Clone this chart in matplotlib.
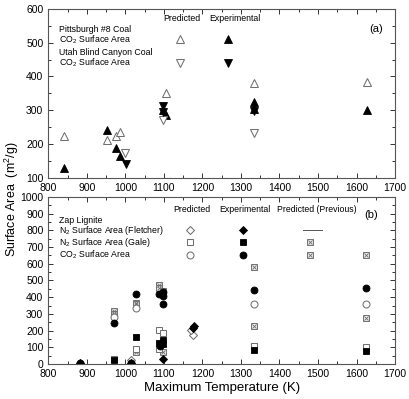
import matplotlib
matplotlib.use("Agg")
import matplotlib.pyplot as plt
from matplotlib.ticker import MultipleLocator

plt.rcParams['font.family'] = ['Liberation Sans', 'DejaVu Sans']
plt.rcParams['mathtext.fontset'] = 'custom'
plt.rcParams['mathtext.rm'] = 'Liberation Sans'

# ---- Panel (a) data ----
pitt_pred_T = [840, 952, 975, 985, 1105, 1333, 1627]
pitt_pred_SA = [225, 212, 225, 235, 352, 382, 385]
pitt_exp_T = [840, 952, 975, 985, 1097, 1105, 1333, 1333, 1627]
pitt_exp_SA = [128, 242, 190, 165, 300, 287, 325, 305, 300]
utah_pred_T = [1000, 1097, 1333]
utah_pred_SA = [175, 272, 232]
utah_exp_T = [1002, 1097, 1097, 1333]
utah_exp_SA = [140, 312, 295, 298]

# ---- Panel (b) data ----
flet_pred_T = [1015, 1175, 1170]
flet_pred_SA = [25, 172, 205]
flet_exp_T = [883, 1015, 1097, 1175, 1178]
flet_exp_SA = [5, 5, 30, 218, 226]
gale_pred_T = [970, 1027, 1088, 1088, 1097, 1333, 1625]
gale_pred_SA = [32, 92, 205, 90, 185, 108, 100]
gale_exp_T = [970, 1027, 1088, 1097, 1097, 1333, 1625]
gale_exp_SA = [22, 160, 125, 145, 118, 85, 78]
gale_prev_T = [1027, 1097, 1333, 1625]
gale_prev_SA = [72, 70, 228, 278]
co2_pred_T = [970, 1027, 1333, 1625]
co2_pred_SA = [280, 333, 362, 362]
co2_exp_T = [883, 970, 1015, 1027, 1088, 1097, 1097, 1097, 1090, 1333, 1625]
co2_exp_SA = [8, 245, 5, 418, 420, 430, 405, 358, 110, 445, 458]
co2_prev_T = [970, 970, 1027, 1027, 1088, 1088, 1097, 1333, 1625]
co2_prev_SA = [315, 300, 368, 358, 475, 458, 440, 580, 652]

GRAY = '#707070'
MS = 5.0
MSIZES = {'D': 4.3, 's': 4.6, 'o': 5.0, '^': 5.2, 'v': 5.2}

fig = plt.figure(figsize=(4.09, 3.99), dpi=100)
axa = fig.add_axes([0.118, 0.554, 0.848, 0.424])
axb = fig.add_axes([0.118, 0.088, 0.848, 0.418])


def style(ax, ymin, ymax, ymaj, ymin_step):
    ax.set_xlim(800, 1700)
    ax.set_ylim(ymin, ymax)
    ax.xaxis.set_major_locator(MultipleLocator(100))
    ax.xaxis.set_minor_locator(MultipleLocator(50))
    ax.yaxis.set_major_locator(MultipleLocator(ymaj))
    ax.yaxis.set_minor_locator(MultipleLocator(ymin_step))
    ax.tick_params(which='both', direction='in', top=True, right=True,
                   labelsize=7.5, width=0.7, color='#333333')
    ax.tick_params(which='major', length=3.5)
    ax.tick_params(which='minor', length=2)
    for s in ax.spines.values():
        s.set_linewidth(0.8)
        s.set_color('#555555')


style(axa, 100, 600, 100, 50)
style(axb, 0, 1000, 100, 50)


def opn(ax, x, y, m, **kw):
    ax.plot(x, y, linestyle='none', marker=m, ms=MSIZES[m], mfc='white', mec=GRAY, mew=0.75, **kw)


def fil(ax, x, y, m, **kw):
    ax.plot(x, y, linestyle='none', marker=m, ms=MSIZES[m], mfc='black', mec='black', mew=0.6, **kw)


def hatch(ax, x, y, **kw):
    ax.plot(x, y, linestyle='none', marker='s', ms=4.6, mfc='#e8e8e8', mec=GRAY, mew=0.7, **kw)
    ax.plot(x, y, linestyle='none', marker='x', ms=3.2, mec=GRAY, mew=0.6, **kw)


# Panel (a)
opn(axa, pitt_pred_T, pitt_pred_SA, '^')
fil(axa, pitt_exp_T, pitt_exp_SA, '^')
opn(axa, utah_pred_T, utah_pred_SA, 'v')
fil(axa, utah_exp_T, utah_exp_SA, 'v')

ta = axa.transAxes
fs = 6.3
axa.text(0.386, 0.94, 'Predicted', transform=ta, fontsize=fs, ha='center', va='center')
axa.text(0.538, 0.94, 'Experimental', transform=ta, fontsize=fs, ha='center', va='center')
axa.text(0.03, 0.88, 'Pittsburgh #8 Coal', transform=ta, fontsize=fs, va='center')
axa.text(0.03, 0.817, 'CO$_2$ Surface Area', transform=ta, fontsize=fs, va='center')
axa.text(0.03, 0.744, 'Utah Blind Canyon Coal', transform=ta, fontsize=fs, va='center')
axa.text(0.03, 0.682, 'CO$_2$ Surface Area', transform=ta, fontsize=fs, va='center')
opn(axa, [0.379], [0.82], '^', transform=ta)
fil(axa, [0.518], [0.82], '^', transform=ta)
opn(axa, [0.379], [0.68], 'v', transform=ta)
fil(axa, [0.518], [0.68], 'v', transform=ta)
axa.text(0.945, 0.88, '(a)', transform=ta, fontsize=8, ha='center', va='center')

# Panel (b)
hatch(axb, gale_prev_T, gale_prev_SA)
hatch(axb, co2_prev_T, co2_prev_SA)
opn(axb, flet_pred_T, flet_pred_SA, 'D', )
opn(axb, gale_pred_T, gale_pred_SA, 's')
opn(axb, co2_pred_T, co2_pred_SA, 'o')
fil(axb, flet_exp_T, flet_exp_SA, 'D')
fil(axb, gale_exp_T, gale_exp_SA, 's')
fil(axb, co2_exp_T, co2_exp_SA, 'o')

tb = axb.transAxes
axb.text(0.415, 0.926, 'Predicted', transform=tb, fontsize=fs, ha='center', va='center')
axb.text(0.566, 0.926, 'Experimental', transform=tb, fontsize=fs, ha='center', va='center')
axb.text(0.774, 0.926, 'Predicted (Previous)', transform=tb, fontsize=fs, ha='center', va='center')
axb.text(0.03, 0.862, 'Zap Lignite', transform=tb, fontsize=fs, va='center')
axb.text(0.03, 0.80, 'N$_2$ Surface Area (Fletcher)', transform=tb, fontsize=fs, va='center')
axb.text(0.03, 0.727, 'N$_2$ Surface Area (Gale)', transform=tb, fontsize=fs, va='center')
axb.text(0.03, 0.652, 'CO$_2$ Surface Area', transform=tb, fontsize=fs, va='center')
opn(axb, [0.408], [0.805], 'D', transform=tb)
opn(axb, [0.408], [0.73], 's', transform=tb)
opn(axb, [0.408], [0.655], 'o', transform=tb)
fil(axb, [0.561], [0.805], 'D', transform=tb)
fil(axb, [0.561], [0.73], 's', transform=tb)
fil(axb, [0.561], [0.655], 'o', transform=tb)
axb.plot([0.735, 0.79], [0.805, 0.805], color='#555555', lw=0.7, transform=tb)
hatch(axb, [0.756], [0.73], transform=tb)
hatch(axb, [0.756], [0.655], transform=tb)
axb.text(0.93, 0.89, '(b)', transform=tb, fontsize=8, ha='center', va='center')

axb.set_xlabel('Maximum Temperature (K)', fontsize=9.5, labelpad=2)
fig.text(0.028, 0.5, 'Surface Area  (m$^2$/g)', rotation=90, fontsize=9,
         ha='center', va='center')

fig.savefig('out.png', dpi=100)
